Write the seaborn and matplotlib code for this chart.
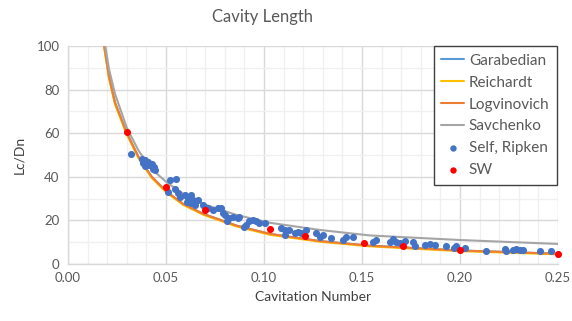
import matplotlib
matplotlib.use("Agg")
import matplotlib.pyplot as plt
from matplotlib.ticker import MultipleLocator, FormatStrFormatter
import seaborn as sns
import pandas as pd

# ---- data ----
curve_sigma = [0.0170, 0.0185, 0.0209, 0.0240, 0.0298, 0.0359, 0.0427, 0.0503,
               0.0588, 0.0690, 0.0860, 0.1030, 0.1286, 0.1540, 0.2000, 0.2500]
garabedian = [110.0, 100.0, 86.0, 74.0, 60.5, 49.2, 40.0, 33.2,
              27.5, 23.0, 17.6, 13.8, 10.5, 8.4, 6.2, 4.7]
reichardt = [109.0, 99.0, 85.2, 73.2, 59.8, 48.6, 39.5, 32.7,
             27.1, 22.6, 17.2, 13.4, 10.2, 8.1, 5.9, 4.45]
logvinovich = [110.0, 100.0, 86.0, 74.0, 60.5, 49.2, 40.0, 33.2,
               27.5, 23.0, 17.6, 13.8, 10.5, 8.4, 6.2, 4.7]

sav_sigma = [0.0175, 0.0190, 0.0210, 0.0240, 0.0300, 0.0360, 0.0427, 0.0503,
             0.0600, 0.0690, 0.0860, 0.1030, 0.1286, 0.1540, 0.2000, 0.2500]
savchenko = [110.0, 100.0, 89.0, 78.0, 62.5, 52.0, 43.5, 37.5,
             31.5, 27.5, 22.5, 18.9, 15.6, 13.1, 11.0, 9.2]

sr_sigma = [0.0321, 0.0376, 0.0385, 0.0395, 0.0405, 0.0410, 0.0420, 0.0428, 0.0435,
            0.0440, 0.0445, 0.0392, 0.0520, 0.0550, 0.0510, 0.0546, 0.0560, 0.0570,
            0.0597, 0.0614, 0.0630, 0.0606, 0.0630, 0.0640, 0.0665, 0.0650, 0.0690,
            0.0716, 0.0740, 0.0767, 0.0780, 0.0790, 0.0800, 0.0810, 0.0820, 0.0840,
            0.0870, 0.0867, 0.0900, 0.0909, 0.0926, 0.0943, 0.0960, 0.0977, 0.1003,
            0.1088, 0.1105, 0.1105, 0.1130, 0.1156, 0.1173, 0.1190, 0.1215, 0.1266,
            0.1284, 0.1300, 0.1343, 0.1402, 0.1420, 0.1453, 0.1556, 0.1573, 0.1641,
            0.1658, 0.1675, 0.1692, 0.1718, 0.1760, 0.1770, 0.1820, 0.1845, 0.1870,
            0.1930, 0.1970, 0.1980, 0.2024, 0.2134, 0.2228, 0.2236, 0.2270, 0.2287,
            0.2304, 0.2321, 0.2406, 0.2462]
sr_L = [50.5, 48.0, 46.5, 47.5, 45.5, 46.8, 45.2, 46.0, 43.5,
        44.5, 43.0, 45.0, 38.5, 38.8, 33.2, 34.5, 32.4, 30.6,
        31.7, 30.1, 31.7, 28.6, 27.8, 29.4, 29.4, 27.1, 27.1,
        25.5, 24.8, 25.5, 25.5, 23.2, 22.5, 19.5, 21.0, 21.7,
        21.7, 21.0, 17.1, 17.9, 19.5, 20.2, 19.5, 18.7, 18.7,
        16.4, 15.6, 13.4, 15.6, 14.1, 14.9, 14.1, 15.6, 14.1,
        12.6, 13.4, 11.8, 11.1, 12.6, 12.6, 10.3, 10.8, 10.3,
        11.4, 10.3, 9.5, 10.6, 10.3, 8.1, 8.8, 9.2, 8.8,
        8.1, 7.3, 8.1, 7.3, 6.1, 6.9, 6.1, 6.3, 6.9,
        6.6, 6.3, 6.1, 6.1]

sw_sigma = [0.030, 0.050, 0.070, 0.103, 0.121, 0.151, 0.171, 0.200, 0.250]
sw_L = [60.5, 35.3, 24.8, 15.9, 12.8, 9.7, 8.2, 6.5, 4.6]

x_ticks = [0.00, 0.05, 0.10, 0.15, 0.20, 0.25]
y_ticks = [0, 20, 40, 60, 80, 100]

# ---- style ----
sns.set_theme(style="white")
plt.rcParams['font.family'] = ['Lato', 'DejaVu Sans']

fig = plt.figure(figsize=(5.72, 3.21), dpi=100)
ax = fig.add_axes([68 / 572, 1 - 264 / 321, (558 - 68) / 572, (264 - 46) / 321])

curves = pd.DataFrame({"sigma": curve_sigma, "Garabedian": garabedian,
                       "Reichardt": reichardt, "Logvinovich": logvinovich})
sav = pd.DataFrame({"sigma": sav_sigma, "Savchenko": savchenko})
sr = pd.DataFrame({"sigma": sr_sigma, "L": sr_L})
sw = pd.DataFrame({"sigma": sw_sigma, "L": sw_L})

lw = 1.5
sns.lineplot(data=curves, x="sigma", y="Garabedian", ax=ax, color="#5B9BD5",
             lw=lw, label="Garabedian", sort=False, zorder=3)
sns.lineplot(data=curves, x="sigma", y="Reichardt", ax=ax, color="#FFC000",
             lw=lw, label="Reichardt", sort=False, zorder=3)
sns.lineplot(data=curves, x="sigma", y="Logvinovich", ax=ax, color="#ED7D31",
             lw=lw, label="Logvinovich", sort=False, zorder=3)
sns.lineplot(data=sav, x="sigma", y="Savchenko", ax=ax, color="#A5A5A5",
             lw=lw, label="Savchenko", sort=False, zorder=3)
sns.scatterplot(data=sr, x="sigma", y="L", ax=ax, color="#4472C4", s=26,
                linewidth=0, label="Self, Ripken", zorder=4, clip_on=False)
sns.scatterplot(data=sw, x="sigma", y="L", ax=ax, color="#FF0000", s=26,
                linewidth=0, label="SW", zorder=5, clip_on=False)

ax.set_xlim(0, 0.25)
ax.set_ylim(0, 100)
ax.set_xticks(x_ticks)
ax.set_yticks(y_ticks)
ax.xaxis.set_major_formatter(FormatStrFormatter('%.2f'))
ax.xaxis.set_minor_locator(MultipleLocator(0.01))
ax.yaxis.set_minor_locator(MultipleLocator(10))
ax.grid(which='major', color='#D9D9D9', lw=1.0, zorder=0)
ax.grid(which='minor', color='#F0F0F0', lw=1.0, zorder=0)
ax.set_axisbelow(True)
ax.tick_params(which='both', length=0, labelsize=9.5, colors='#595959', pad=6)

for s in ['top', 'right']:
    ax.spines[s].set_visible(False)
for s in ['left', 'bottom']:
    ax.spines[s].set_color('#D9D9D9')
    ax.spines[s].set_linewidth(1.0)

ax.set_xlabel("Cavitation Number", fontsize=10, color='#404040', labelpad=5)
ax.set_ylabel("Lc/Dn", fontsize=10, color='#404040', labelpad=8)
fig.text(263 / 572, 1 - 17 / 321, "Cavity Length", ha='center', va='center',
         fontsize=12, color='#595959')

leg = ax.legend(loc='upper right', bbox_to_anchor=(0.998, 1.0), borderaxespad=0,
                fontsize=11, frameon=True, fancybox=False, framealpha=1,
                edgecolor='#404040', handlelength=1.5, handletextpad=0.3,
                labelspacing=0.52, borderpad=0.5, markerscale=0.9)
leg.get_frame().set_linewidth(1.0)
for t in leg.get_texts():
    t.set_color('#595959')

fig.savefig("out.png", dpi=100)
